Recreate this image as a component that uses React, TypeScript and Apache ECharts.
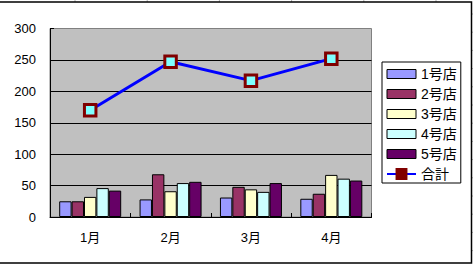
import React, { useEffect, useRef } from "react";
import * as echarts from "echarts";

const months = ["1月", "2月", "3月", "4月"];
const storeNames = ["1号店", "2号店", "3号店", "4号店", "5号店"];
const store1 = [25, 28, 31, 29];
const store2 = [25, 68, 48, 37];
const store3 = [32, 41, 44, 67];
const store4 = [46, 54, 40, 61];
const store5 = [42, 56, 54, 58];
const totalName = "合計";
const total = [170, 247, 217, 252];
const storeColors = ["#9999FF", "#993366", "#FFFFCC", "#CCFFFF", "#660066"];
const yTicks = { min: 0, max: 300, interval: 50 };

const FONT = "'Liberation Sans', 'Noto Sans CJK JP', sans-serif";

export default function App() {
  const ref = useRef<HTMLDivElement>(null);
  useEffect(() => {
    if (!ref.current) return;
    const chart = echarts.init(ref.current, null, { renderer: "svg" });
    const storeData = [store1, store2, store3, store4, store5];
    const barSeries = storeNames.map((name, i) => ({
      type: "bar",
      name,
      data: storeData[i],
      barWidth: 12.4,
      barGap: "0%",
      itemStyle: { color: storeColors[i], borderColor: "#000", borderWidth: 1 },
    }));
    const sheetLines: any[] = [];
    for (let k = 0; k < 6; k++) {
      const x = 75 + k * 72.2;
      sheetLines.push({ type: "line", shape: { x1: x, y1: 0, x2: x, y2: 2 }, style: { stroke: "#b0b0b0", lineWidth: 1 } });
    }
    for (let k = 0; k < 14; k++) {
      const y = 14 + k * 18.2;
      sheetLines.push({ type: "line", shape: { x1: 472, y1: y, x2: 473, y2: y }, style: { stroke: "#b0b0b0", lineWidth: 1 } });
    }
    chart.setOption({
      animation: false,
      textStyle: { fontFamily: FONT },
      grid: {
        left: 50,
        top: 28.5,
        right: 101.5,
        bottom: 47,
        show: true,
        backgroundColor: "#C0C0C0",
        borderColor: "#808080",
        borderWidth: 1,
      },
      graphic: [
        ...sheetLines,
        {
          type: "rect",
          shape: { x: -5, y: 2, width: 476.5, height: 261 },
          style: { fill: "none", stroke: "#000", lineWidth: 1.5 },
          z: 100,
        },
      ],
      legend: {
        orient: "vertical",
        left: 382,
        top: 62,
        padding: [5, 4, 2, 4],
        itemGap: 6,
        itemWidth: 29,
        itemHeight: 13,
        backgroundColor: "#fff",
        borderColor: "#000",
        borderWidth: 1,
        borderRadius: 0,
        itemStyle: { borderWidth: 1 },
        textStyle: { fontSize: 14, color: "#000", fontFamily: FONT, lineHeight: 14 },
        data: [
          ...storeNames.map((n) => ({ name: n, icon: "path://M0,0h29v9h-29z" })),
          {
            name: totalName,
            itemStyle: { color: "#800000", borderColor: "#800000", borderWidth: 1.5 },
          },
        ],
      },
      xAxis: {
        type: "category",
        data: months,
        boundaryGap: true,
        axisLine: { lineStyle: { color: "#000", width: 1 } },
        axisTick: { show: true, inside: true, length: 4, lineStyle: { color: "#000" } },
        axisLabel: { color: "#000", fontSize: 13, margin: 14, fontFamily: FONT },
      },
      yAxis: {
        type: "value",
        min: yTicks.min,
        max: yTicks.max,
        interval: yTicks.interval,
        axisLine: { show: true, lineStyle: { color: "#000", width: 1 } },
        axisTick: { show: true, inside: true, length: 4, lineStyle: { color: "#000" } },
        axisLabel: { color: "#000", fontSize: 13, margin: 14, fontFamily: FONT },
        splitLine: { show: true, showMaxLine: false, lineStyle: { color: "#000", width: 1 } },
      },
      series: [
        ...barSeries,
        {
          type: "line",
          name: totalName,
          data: total,
          z: 10,
          symbol: "rect",
          symbolSize: 11.5,
          lineStyle: { color: "#0000FF", width: 3 },
          itemStyle: { color: "#80FFFF", borderColor: "#800000", borderWidth: 3 },
        },
      ],
    });
    return () => chart.dispose();
  }, []);
  return <div ref={ref} style={{ width: 473, height: 264, position: "absolute", left: 0, top: 0, background: "#fff" }} />;
}
